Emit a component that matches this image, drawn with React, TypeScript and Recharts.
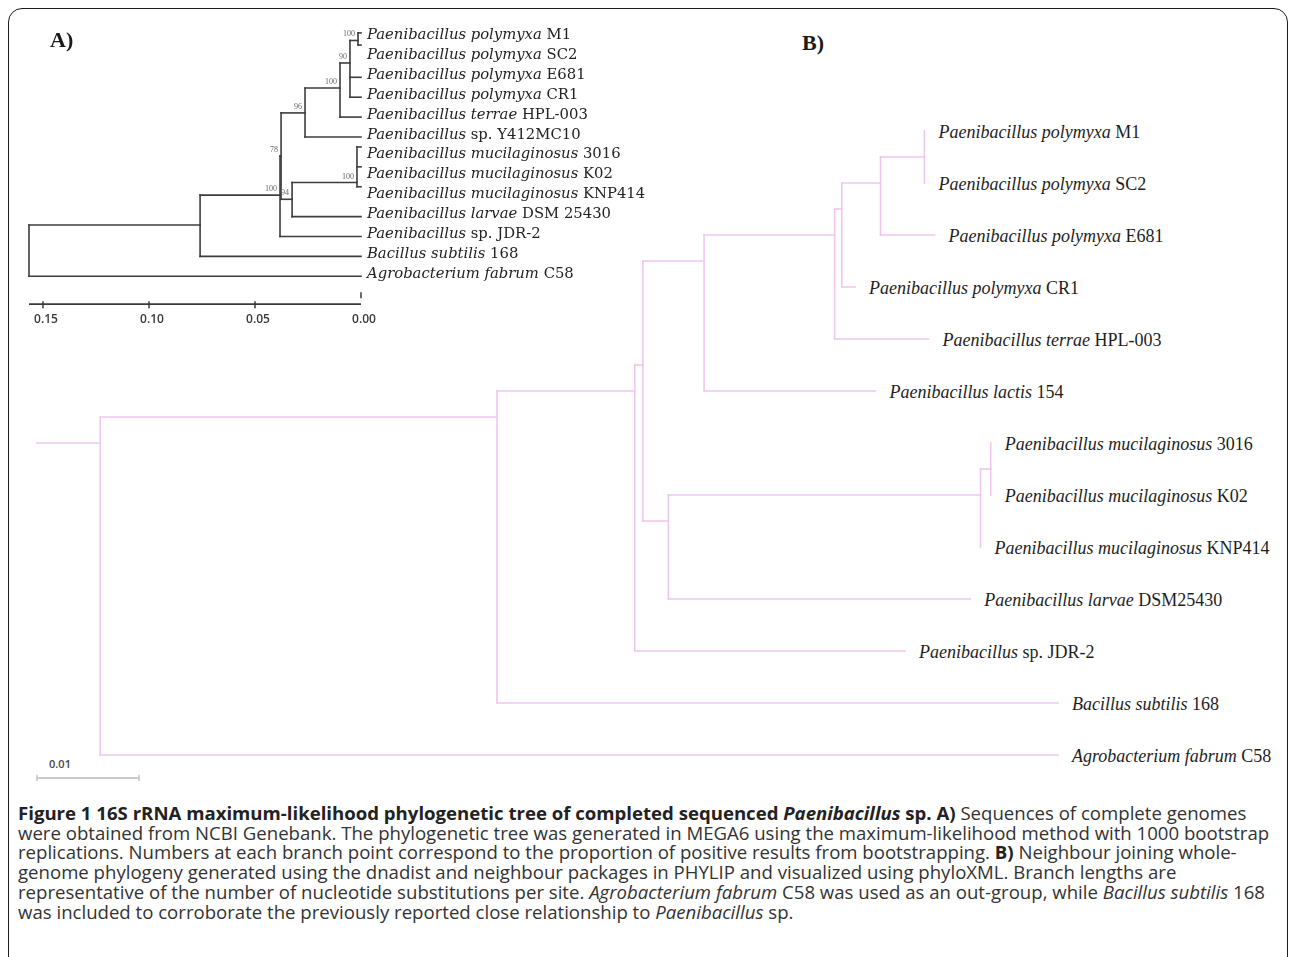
import React from "react";
import { ScatterChart, Scatter, XAxis, YAxis, ReferenceLine, ReferenceDot } from "recharts";

// ---------- Panel A: 16S rRNA maximum-likelihood tree (MEGA6) ----------
// tips, top to bottom
const leafIdsA = ["M1", "SC2", "E681", "CR1", "HPL", "Y412", "3016", "K02", "KNP414", "larvae", "JDR2", "Bsub", "Agro"];
const leafTaxonA = [
  "Paenibacillus polymyxa", "Paenibacillus polymyxa", "Paenibacillus polymyxa", "Paenibacillus polymyxa",
  "Paenibacillus terrae", "Paenibacillus", "Paenibacillus mucilaginosus", "Paenibacillus mucilaginosus",
  "Paenibacillus mucilaginosus", "Paenibacillus larvae", "Paenibacillus", "Bacillus subtilis", "Agrobacterium fabrum",
];
const leafStrainA = ["M1", "SC2", "E681", "CR1", "HPL-003", "sp. Y412MC10", "3016", "K02", "KNP414", "DSM 25430", "sp. JDR-2", "168", "C58"];
// row where each tip branch ends (bracketed clades are squeezed)
const leafTipRowA = [-0.23, 0.38, 2, 3, 4, 5, 5.5, 6.5, 7.5, 9, 10, 11, 12];

// internal nodes: distance from the tips, drawn row, children, bootstrap
const nodeIdsA = ["M1SC2", "N6", "N5", "N3", "Muc", "N4", "Na", "Nb", "N1", "root"];
const nodeDistA = [0.0014, 0.0052, 0.0099, 0.0264, 0.0019, 0.0325, 0.0377, 0.0382, 0.0759, 0.1566];
const nodeRowA = [0.15, 1.28, 2.54, 3.79, 7.29, 8.13, 5.96, 7.92, 9.42, 10.71];
const nodeChildrenA = [
  ["M1", "SC2"], ["M1SC2", "E681", "CR1"], ["N6", "HPL"], ["N5", "Y412"], ["3016", "K02", "KNP414"],
  ["Muc", "larvae"], ["N3", "N4"], ["Na", "JDR2"], ["Nb", "Bsub"], ["N1", "Agro"],
];
const bootstrapA = [100, 90, 100, 96, 100, 94, 78, 100, null, null];
const distTicksA = [0.15, 0.1, 0.05, 0];

// ---------- Panel B: neighbour-joining whole-genome tree (PHYLIP) ----------
const leafIdsB = ["M1", "SC2", "E681", "CR1", "HPL", "lactis", "3016", "K02", "KNP414", "larvae", "JDR2", "Bsub", "Agro"];
const leafTaxonB = [
  "Paenibacillus polymyxa", "Paenibacillus polymyxa", "Paenibacillus polymyxa", "Paenibacillus polymyxa",
  "Paenibacillus terrae", "Paenibacillus lactis", "Paenibacillus mucilaginosus", "Paenibacillus mucilaginosus",
  "Paenibacillus mucilaginosus", "Paenibacillus larvae", "Paenibacillus", "Bacillus subtilis", "Agrobacterium fabrum",
];
const leafStrainB = ["M1", "SC2", "E681", "CR1", "HPL-003", "154", "3016", "K02", "KNP414", "DSM25430", "sp. JDR-2", "168", "C58"];
// cumulative substitutions per site from the drawing origin
const leafDepthB = [0.087, 0.087, 0.088, 0.0802, 0.0874, 0.0822, 0.0935, 0.0935, 0.0925, 0.0915, 0.0851, 0.1001, 0.1001];
const nodeIdsB = ["pM", "P1", "P2", "P3", "P4", "pMu", "tMu", "Q", "T", "S", "BN", "root"];
const nodeDepthB = [0.087, 0.0827, 0.0789, 0.0782, 0.0654, 0.0935, 0.0925, 0.0619, 0.0594, 0.0586, 0.0451, 0.0062];
const nodeChildrenB = [
  ["M1", "SC2"], ["pM", "E681"], ["P1", "CR1"], ["P2", "HPL"], ["P3", "lactis"], ["3016", "K02"],
  ["pMu", "KNP414"], ["tMu", "larvae"], ["P4", "Q"], ["T", "JDR2"], ["S", "Bsub"], ["BN", "Agro"],
];
const scaleBarB = 0.01;
const scaleBarRowB = 12.44;

type Pt = { x: number; y: number };

function elbowSegments(pos: Record<string, Pt>, ids: string[], children: string[][]) {
  const segs: [Pt, Pt][] = [];
  ids.forEach((id, i) => {
    const p = pos[id];
    const ys = children[i].map((c) => pos[c].y);
    segs.push([{ x: p.x, y: Math.min(...ys) }, { x: p.x, y: Math.max(...ys) }]);
    children[i].forEach((c) => {
      if (pos[c].x !== p.x) segs.push([{ x: p.x, y: pos[c].y }, { x: pos[c].x, y: pos[c].y }]);
    });
  });
  return segs;
}

// panel A positions
const posA: Record<string, Pt> = {};
leafIdsA.forEach((id, i) => (posA[id] = { x: 0, y: leafTipRowA[i] }));
nodeIdsA.forEach((id, i) => (posA[id] = { x: nodeDistA[i], y: nodeRowA[i] }));
const segsA = elbowSegments(posA, nodeIdsA, nodeChildrenA);
const leafPointsA = leafIdsA.map((id, i) => ({ x: 0, y: i, taxon: leafTaxonA[i], strain: leafStrainA[i] }));
const bootPointsA = nodeIdsA
  .map((id, i) => ({ x: nodeDistA[i], y: nodeRowA[i], boot: bootstrapA[i] }))
  .filter((d) => d.boot != null);

// panel B positions (node row = mean row of its tips)
const posB: Record<string, Pt> = {};
leafIdsB.forEach((id, i) => (posB[id] = { x: leafDepthB[i], y: i }));
function tipRowsB(id: string): number[] {
  const k = nodeIdsB.indexOf(id);
  if (k < 0) return [leafIdsB.indexOf(id)];
  return nodeChildrenB[k].flatMap(tipRowsB);
}
nodeIdsB.forEach((id, i) => {
  const rows = tipRowsB(id);
  posB[id] = { x: nodeDepthB[i], y: rows.reduce((a, b) => a + b, 0) / rows.length };
});
const segsB = elbowSegments(posB, nodeIdsB, nodeChildrenB);
segsB.push([{ x: 0, y: posB.root.y }, { x: posB.root.x, y: posB.root.y }]);
const leafPointsB = leafIdsB.map((id, i) => ({ x: leafDepthB[i], y: i, taxon: leafTaxonB[i], strain: leafStrainB[i] }));

const LeafLabelA = ({ cx, cy, d }: any) => (
  <text x={cx + 6} y={cy + 1.5} fontFamily="DejaVu Serif" fontSize={14.8} fill="#222">
    <tspan fontStyle="italic">{d.taxon}</tspan>
    <tspan> {d.strain}</tspan>
  </text>
);

const LeafLabelB = ({ cx, cy, d }: any) => (
  <text x={cx + 14} y={cy + 7} fontFamily="Liberation Serif" fontSize={18} fill="#1e1e1e">
    <tspan fontStyle="italic">{d.taxon}</tspan>
    <tspan> {d.strain}</tspan>
  </text>
);

const BootLabel = (p: any) => (
  <text x={p.cx - 3} y={p.cy - 4} textAnchor="end" fontFamily="Liberation Serif" fontSize={8} fill="#666">
    {p.payload.boot}
  </text>
);

const ScaleLabel = (p: any) => (
  <text x={p.cx + 23} y={p.cy - 10} textAnchor="middle" fontFamily="Open Sans" fontWeight={600} fontSize={11} fill="#444">
    {p.payload.label}
  </text>
);

const DistTick = (p: any) => {
  const { x, y, payload } = p;
  const zero = payload.value === 0;
  return (
    <g>
      <line x1={x} x2={x} y1={zero ? y - 12 : y - 3} y2={zero ? y - 6 : y + 4} stroke="#3a3a3a" strokeWidth={1.5} />
      <text x={x + 3} y={y + 19} textAnchor="middle" fontFamily="Open Sans" fontWeight={600} fontSize={12} fill="#3a3a3a">
        {payload.value.toFixed(2)}
      </text>
    </g>
  );
};

const boldStyle = { fontWeight: 700, color: "#222" };

export default function App() {
  return (
    <div style={{ position: "absolute", left: 0, top: 0, width: 1290, height: 957, overflow: "hidden", background: "#fff" }}>
      {/* figure frame */}
      <div
        style={{
          position: "absolute", left: 8, top: 8, width: 1278, height: 1000,
          border: "1.6px solid #1c1c1c", borderRadius: 14,
        }}
      />

      {/* Panel B (pink NJ tree) */}
      <div style={{ position: "absolute", left: 0, top: 0 }}>
        <ScatterChart width={1290} height={830} margin={{ top: 27, right: 29, bottom: 23, left: 37 }}>
          <XAxis type="number" dataKey="x" domain={[0, 0.12]} hide allowDataOverflow />
          <YAxis type="number" dataKey="y" domain={[-2, 13]} reversed hide allowDataOverflow />
          {segsB.map((s, i) => (
            <ReferenceLine key={i} segment={s} stroke="#efc6ee" strokeWidth={1.6} strokeLinecap="square" ifOverflow="visible" />
          ))}
          <ReferenceLine
            segment={[{ x: 0, y: scaleBarRowB }, { x: scaleBarB, y: scaleBarRowB }]}
            stroke="#b8b8b8" strokeWidth={1.5} ifOverflow="visible"
          />
          <ReferenceLine segment={[{ x: 0, y: scaleBarRowB - 0.06 }, { x: 0, y: scaleBarRowB + 0.06 }]} stroke="#b8b8b8" strokeWidth={1.2} ifOverflow="visible" />
          <ReferenceLine segment={[{ x: scaleBarB, y: scaleBarRowB - 0.06 }, { x: scaleBarB, y: scaleBarRowB + 0.06 }]} stroke="#b8b8b8" strokeWidth={1.2} ifOverflow="visible" />
          {leafPointsB.map((d, i) => (
            <ReferenceDot key={i} x={d.x} y={d.y} r={0} ifOverflow="visible"
              shape={(p: any) => <LeafLabelB cx={p.cx} cy={p.cy} d={d} />} />
          ))}
          <Scatter data={[{ x: 0, y: scaleBarRowB, label: String(scaleBarB) }]} shape={ScaleLabel} isAnimationActive={false} />
        </ScatterChart>
      </div>

      {/* Panel A (MEGA6 ML tree) */}
      <div style={{ position: "absolute", left: 0, top: 0, willChange: "transform" }}>
        <ScatterChart width={660} height={345} margin={{ top: 17.6, right: 299, bottom: 10.84, left: 29 }}>
          <XAxis
            type="number" dataKey="x" domain={[0, 0.1566]} reversed allowDataOverflow
            ticks={distTicksA} interval={0} tickSize={0} tickMargin={0} tickLine={false}
            tick={DistTick} axisLine={{ stroke: "#3a3a3a", strokeWidth: 1.6 }} height={30}
          />
          <YAxis type="number" dataKey="y" domain={[-1, 13.4]} reversed hide allowDataOverflow />
          {segsA.map((s, i) => (
            <ReferenceLine key={i} segment={s} stroke="#3d3d3d" strokeWidth={1.6} strokeLinecap="square" ifOverflow="visible" />
          ))}
          {leafPointsA.map((d, i) => (
            <ReferenceDot key={i} x={d.x} y={d.y} r={0} ifOverflow="visible"
              shape={(p: any) => <LeafLabelA cx={p.cx} cy={p.cy} d={d} />} />
          ))}
          <Scatter data={bootPointsA} shape={BootLabel} isAnimationActive={false} />
        </ScatterChart>
      </div>

      {/* panel tags */}
      <div style={{ position: "absolute", left: 50, top: 29, font: "bold 22px 'Liberation Serif'", lineHeight: "22px", color: "#1a1a1a" }}>A)</div>
      <div style={{ position: "absolute", left: 802, top: 32, font: "bold 22px 'Liberation Serif'", lineHeight: "22px", color: "#1a1a1a" }}>B)</div>

      {/* caption */}
      <div
        style={{
          position: "absolute", left: 18, top: 803, fontFamily: "'Open Sans'", fontSize: 18.6,
          lineHeight: "19.7px", color: "#333", whiteSpace: "nowrap",
        }}
      >
        <div>
          <b style={boldStyle}>
            Figure 1 16S rRNA maximum-likelihood phylogenetic tree of completed sequenced <i>Paenibacillus</i> sp. A)
          </b>{" "}
          Sequences of complete genomes
        </div>
        <div>
          were obtained from NCBI Genebank. The phylogenetic tree was generated in MEGA6 using the maximum-likelihood method with 1000 bootstrap
        </div>
        <div>
          replications. Numbers at each branch point correspond to the proportion of positive results from bootstrapping.{" "}
          <b style={boldStyle}>B)</b> Neighbour joining whole-
        </div>
        <div>
          genome phylogeny generated using the dnadist and neighbour packages in PHYLIP and visualized using phyloXML. Branch lengths are
        </div>
        <div>
          representative of the number of nucleotide substitutions per site. <i>Agrobacterium fabrum</i> C58 was used as an out-group, while{" "}
          <i>Bacillus subtilis</i> 168
        </div>
        <div>
          was included to corroborate the previously reported close relationship to <i>Paenibacillus</i> sp.
        </div>
      </div>
    </div>
  );
}
